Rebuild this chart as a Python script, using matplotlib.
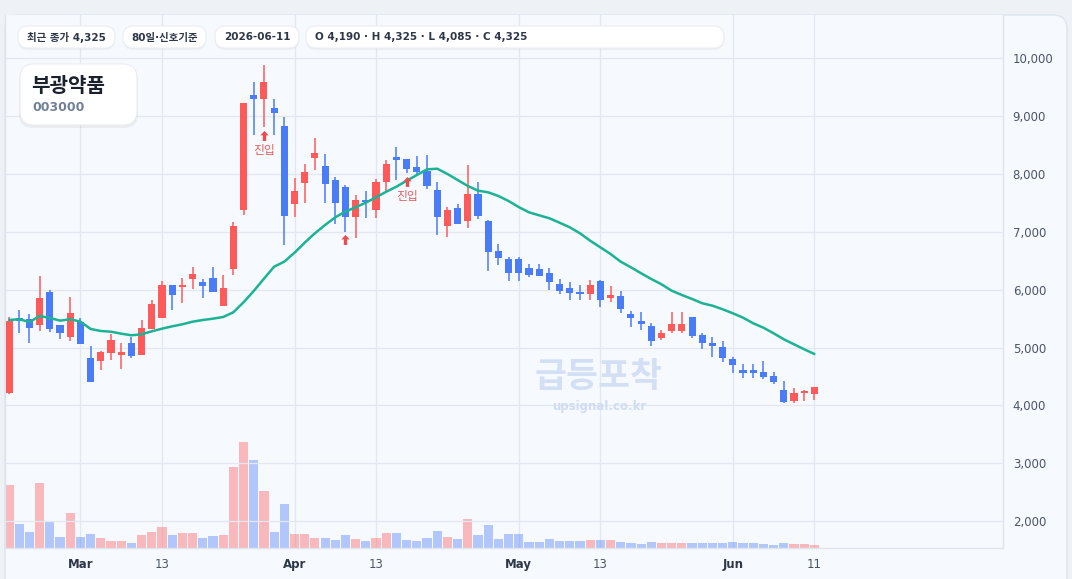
import matplotlib
matplotlib.use("Agg")
import matplotlib.pyplot as plt
from matplotlib.patches import FancyBboxPatch
from matplotlib.path import Path
from matplotlib.transforms import IdentityTransform
from matplotlib.ticker import FuncFormatter

W, H = 1072, 579

# daily candles, 80 trading days ending 2026-06-11
opens = [4210, 5510, 5490, 5390, 5960, 5390, 5180, 5440, 4820, 4770,
         4900, 4870, 5080, 4870, 5320, 5510, 6080, 6040, 6180, 6130,
         6200, 5720, 6360, 7380, 9360, 9290, 9140, 8830, 7480, 7840,
         8270, 8140, 7890, 7770, 7250, 7550, 7380, 7860, 8290, 8260,
         8120, 8050, 7720, 7100, 7410, 7190, 7650, 7190, 6670, 6530,
         6530, 6370, 6360, 6290, 6100, 6030, 5960, 5920, 6150, 5860,
         5890, 5580, 5420, 5370, 5160, 5290, 5290, 5530, 5220, 5060,
         5010, 4800, 4610, 4610, 4580, 4510, 4270, 4080, 4210, 4190]
highs = [5530, 5650, 5580, 6240, 5990, 5390, 5870, 5510, 5030, 4940,
         5230, 5080, 5180, 5480, 5820, 6150, 6080, 6200, 6390, 6180,
         6390, 6250, 7170, 9220, 9590, 9880, 9290, 8980, 7930, 8170,
         8620, 8340, 7950, 7810, 7630, 7700, 7910, 8240, 8460, 8260,
         8310, 8330, 7860, 7430, 7480, 8150, 7860, 7200, 6790, 6560,
         6560, 6440, 6450, 6370, 6180, 6130, 6080, 6170, 6170, 6060,
         5980, 5630, 5610, 5420, 5300, 5610, 5610, 5530, 5250, 5180,
         5110, 4840, 4720, 4720, 4770, 4580, 4420, 4300, 4270, 4325]
lows = [4200, 5250, 5080, 5290, 5270, 5150, 5110, 5060, 4400, 4610,
        4780, 4630, 4820, 4870, 5320, 5510, 5650, 5770, 6010, 5860,
        5960, 5720, 6250, 7290, 8670, 8810, 8670, 6770, 7250, 7500,
        8070, 7500, 7130, 7000, 6890, 7240, 7240, 7700, 7890, 8010,
        7980, 7740, 6940, 6910, 7130, 7060, 7220, 6320, 6430, 6150,
        6150, 6220, 6230, 5990, 5920, 5820, 5820, 5820, 5700, 5790,
        5600, 5350, 5300, 5030, 5130, 5250, 5250, 5160, 4970, 4840,
        4750, 4560, 4470, 4480, 4460, 4370, 4040, 4040, 4080, 4085]
closes = [5460, 5460, 5340, 5860, 5320, 5250, 5600, 5060, 4400, 4920,
          5130, 4920, 4850, 5340, 5750, 6080, 5910, 6060, 6270, 6060,
          5960, 6030, 7100, 9220, 9290, 9590, 9050, 7270, 7700, 8030,
          8360, 7820, 7500, 7250, 7550, 7510, 7860, 8170, 8240, 8080,
          8030, 7790, 7250, 7380, 7130, 7650, 7270, 6650, 6550, 6290,
          6290, 6250, 6240, 6130, 5980, 5940, 5920, 6080, 5820, 5890,
          5670, 5510, 5410, 5110, 5250, 5410, 5410, 5200, 5080, 5030,
          4820, 4700, 4560, 4560, 4490, 4400, 4060, 4210, 4250, 4325]
volumes = [189, 72, 48, 195, 78, 33, 105, 33, 42, 30,
           21, 21, 15, 39, 48, 63, 39, 45, 45, 30,
           36, 39, 243, 318, 264, 171, 48, 132, 42, 42,
           30, 30, 24, 39, 27, 21, 30, 45, 45, 24,
           21, 30, 51, 33, 27, 87, 39, 69, 27, 42,
           42, 18, 18, 27, 21, 21, 21, 24, 24, 24,
           18, 15, 12, 18, 15, 15, 15, 15, 15, 15,
           15, 18, 15, 15, 12, 9, 15, 12, 12, 9]
volumes = [v * 10000 for v in volumes]
ma20 = [5475, 5488, 5440, 5544, 5510, 5464, 5488, 5447, 5320, 5285,
        5273, 5239, 5211, 5228, 5280, 5325, 5366, 5401, 5446, 5475,
        5498, 5527, 5608, 5781, 5976, 6188, 6396, 6483, 6638, 6811,
        6973, 7116, 7249, 7347, 7422, 7502, 7594, 7691, 7778, 7881,
        7979, 8077, 8088, 7997, 7893, 7790, 7709, 7680, 7617, 7530,
        7425, 7335, 7283, 7232, 7156, 7076, 6973, 6845, 6730, 6615,
        6482, 6385, 6282, 6183, 6091, 5981, 5907, 5838, 5764, 5722,
        5660, 5591, 5515, 5418, 5342, 5245, 5142, 5055, 4969, 4888]

signal_idx = [25, 33, 39]
signal_text = ['진입', '', '진입']

tick_pos = [7, 15, 28, 36, 50, 58, 71, 79]
tick_labels = ['Mar', '13', 'Apr', '13', 'May', '13', 'Jun', '11']
months = ['Mar', 'Apr', 'May', 'Jun']

name = '부광약품'
code = '003000'
last_date = '2026-06-11'

UP = '#ff5a5a'
DOWN = '#4a7cf7'
MA_COL = '#1bb394'
BG = '#f6f9fe'

plt.rcParams['font.family'] = ['DejaVu Sans', 'Noto Sans CJK KR']

fig = plt.figure(figsize=(W / 100, H / 100), dpi=100, facecolor='#eef2f7')


def px_box(x0, y0, x1, y1, r, fc, ec='none', lw=0.0, z=0, alpha=1.0):
    # box in screen pixels, y measured from the top
    p = FancyBboxPatch((x0, H - y1), x1 - x0, y1 - y0,
                       boxstyle="round,pad=0,rounding_size=%d" % r,
                       transform=IdentityTransform(), fc=fc, ec=ec,
                       lw=lw, zorder=z, alpha=alpha)
    fig.add_artist(p)


def px_text(x, y, s, **kw):
    fig.text(x / W, 1 - y / H, s, **kw)


# panel behind the chart
px_box(5, 15, 1067, 600, 14, BG, ec='#dde4ee', lw=1.0, z=-5)

ax_vol = fig.add_axes([5 / W, (H - 548) / H, 998 / W, 533 / H])
ax = ax_vol.twinx()
ax_vol.set_facecolor(BG)

x = list(range(len(closes)))
up = [c >= o for o, c in zip(opens, closes)]

# volume
vcol = [UP if u else DOWN for u in up]
ax_vol.bar(x, volumes, width=0.9, color=vcol, alpha=0.4, zorder=2)
ax_vol.set_ylim(0, max(volumes) * 533 / 106)
ax_vol.set_yticks([])

# candles
ccol = [UP if u else DOWN for u in up]
ax.vlines(x, lows, highs, colors=ccol, lw=1.1, zorder=3)
bottoms = [min(o, c) for o, c in zip(opens, closes)]
heights = [max(abs(c - o), 45) for o, c in zip(opens, closes)]
ax.bar(x, heights, bottom=bottoms, width=0.7, color=ccol, zorder=4)

ax.plot(x, ma20, color=MA_COL, lw=1.8, zorder=5, solid_capstyle='round')

# entry signals
arrow = Path([(0, 1), (-0.75, 0.2), (-0.3, 0.2), (-0.3, -0.8),
              (0.3, -0.8), (0.3, 0.2), (0.75, 0.2), (0, 1)])
for i, t in zip(signal_idx, signal_text):
    ax.plot(i, lows[i] - 150, marker=arrow, ms=8, color='#ee4b4b',
            mec='none', zorder=6)
    if t:
        ax.text(i, lows[i] - 400, t, ha='center', va='center',
                fontsize=8.5, color='#e06060', zorder=6)

# watermark
ax.text(0.595, 0.321, '급등포착', transform=ax.transAxes, ha='center',
        va='center', fontsize=25, fontweight='bold', color='#d3dff5', zorder=1)
ax.text(0.595, 0.265, 'upsignal.co.kr', transform=ax.transAxes,
        ha='center', va='center', fontsize=8.5, fontweight='bold',
        color='#cfdcf3', zorder=1)

ax_vol.set_xlim(-0.4, 97.5)
ax.set_ylim(1537, 10743)
ax.set_yticks(range(2000, 10001, 1000))
ax.yaxis.set_major_formatter(FuncFormatter(lambda v, p: '{:,}'.format(int(v))))
ax.tick_params(axis='y', length=0, pad=7, labelsize=8.5, labelcolor='#4a5568')
ax.grid(True, axis='y', color='#e3e8f0', lw=0.9)
ax.set_axisbelow(True)

ax_vol.set_xticks(tick_pos)
ax_vol.set_xticklabels(tick_labels)
ax_vol.tick_params(axis='x', length=0, pad=7, labelsize=8.5, labelcolor='#4a5568')
for lab in ax_vol.get_xticklabels():
    if lab.get_text() in months:
        lab.set_fontweight('bold')
        lab.set_color('#2d3748')
ax_vol.grid(True, axis='x', color='#e3e8f0', lw=0.9)
ax_vol.set_axisbelow(True)

for s in ax.spines.values():
    s.set_visible(False)
for k, s in ax_vol.spines.items():
    s.set_color('#dfe5ee')
    s.set_linewidth(1.0)
ax_vol.spines['top'].set_visible(False)

# header pills
last_close = '최근 종가 {:,}'.format(closes[-1])
ohlc = 'O {:,} · H {:,} · L {:,} · C {:,}'.format(opens[-1], highs[-1], lows[-1], closes[-1])
pills = [(18, 115, last_close, 'center'),
         (123, 206, '80일·신호기준', 'center'),
         (215, 299, last_date, 'center'),
         (306, 724, ohlc, 'left')]
for x0, x1, s, al in pills:
    px_box(x0, 28, x1, 50, 10, '#000000', z=8, alpha=0.04)
    px_box(x0, 26, x1, 48, 10, 'white', ec='#e9edf3', lw=0.8, z=9)
    tx = (x0 + x1) / 2 if al == 'center' else x0 + 9
    px_text(tx, 37.5, s, ha=al, va='center', fontsize=7.5,
            fontweight='bold', color='#2d3748', zorder=10)

# name card
px_box(19, 66, 138, 128, 14, '#000000', z=8, alpha=0.05)
px_box(20, 64, 137, 125, 14, 'white', ec='#e9edf3', lw=0.8, z=9)
px_text(31, 86, name, ha='left', va='center', fontsize=14.5,
        fontweight='bold', color='#1a202c', zorder=10)
px_text(32, 107.5, code, ha='left', va='center', fontsize=9,
        fontweight='bold', color='#718096', zorder=10)

fig.savefig('out.png', dpi=100, facecolor=fig.get_facecolor())
